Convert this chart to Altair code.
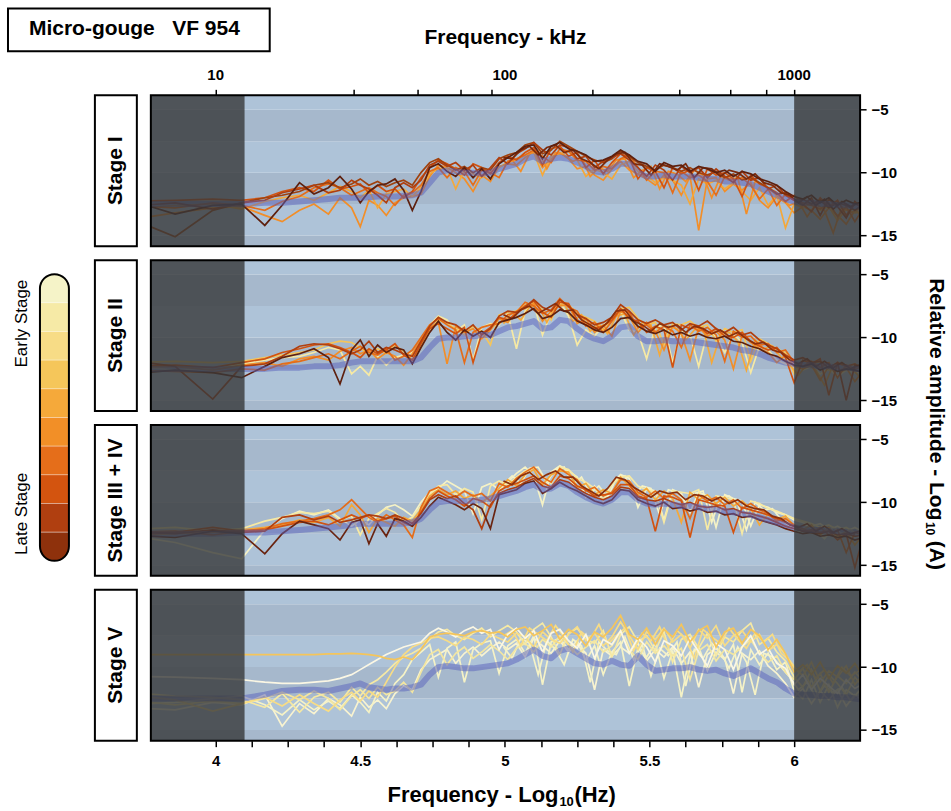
import altair as alt
import pandas as pd
import math

FONT = "Liberation Sans"
W, H = 710, 151

# ---------------- data ----------------
X = [3.69, 3.86, 3.99, 4.09, 4.17, 4.23, 4.29, 4.34, 4.39, 4.43,
     4.47, 4.50, 4.53, 4.56, 4.59, 4.62, 4.65, 4.68, 4.71, 4.74,
     4.77, 4.80, 4.83, 4.86, 4.89, 4.92, 4.95, 4.98, 5.01, 5.04,
     5.07, 5.10, 5.13, 5.16, 5.19, 5.22, 5.25, 5.28, 5.31, 5.34,
     5.37, 5.40, 5.43, 5.46, 5.49, 5.52, 5.55, 5.58, 5.61, 5.64,
     5.67, 5.70, 5.73, 5.76, 5.79, 5.82, 5.85, 5.88, 5.91, 5.94,
     5.97, 6.00, 6.03, 6.06, 6.09, 6.12, 6.15, 6.18, 6.21, 6.24]
# extra high-frequency bins lying between the ones above
X_MID = [4.995, 5.025, 5.055, 5.085, 5.115, 5.145, 5.175, 5.205, 5.235, 5.265,
         5.295, 5.325, 5.355, 5.385, 5.415, 5.445, 5.475, 5.505, 5.535, 5.565,
         5.595, 5.625, 5.655, 5.685, 5.715, 5.745, 5.775, 5.805, 5.835, 5.865,
         5.895, 5.925, 5.955, 5.985, 6.015, 6.045, 6.075, 6.105, 6.135, 6.165,
         6.195, 6.225]

# ---- Stage I ----
M1 = [-12.5, -12.5, -12.5, -12.5, -12.4, -12.4, -12.3, -12.2, -12.1, -12.0,
      -12.0, -12.0, -11.95, -11.9, -11.9, -11.9, -11.85, -11.8, -11.6, -10.8,
      -10.0, -9.8, -9.9, -10.0, -10.0, -10.1, -10.0, -9.7, -9.5, -9.3,
      -8.9, -8.7, -9.1, -8.9, -8.8, -8.9, -9.2, -9.5, -9.9, -10.0,
      -9.7, -9.3, -9.3, -10.0, -10.3, -10.3, -10.2, -10.3, -10.3, -10.3,
      -10.4, -10.5, -10.5, -10.7, -10.7, -10.8, -10.9, -11.2, -11.5, -11.8,
      -12.1, -12.3, -12.4, -12.4, -12.5, -12.5, -12.6, -12.6, -12.7, -12.7]
L1A_LO = [-12.1, -13.3, -12.6, -12.5, -14.2, -12.6, -10.8, -11.7, -11.2, -10.3,
          -11.3, -12.4, -11.5, -11.0, -10.9, -10.5, -11.4, -13.0, -11.5, -9.6,
          -9.3, -9.9, -10.3, -9.6, -10.4, -9.7, -10.5]
L1A_HI = [-9.3, -8.8, -8.4, -7.9, -7.8, -8.9, -7.9, -7.6, -8.1, -8.3,
          -8.6, -9.1, -9.0, -8.7, -8.2, -8.6, -9.1, -9.3, -9.9, -9.2,
          -9.5, -9.4, -9.9, -9.5, -9.7, -10.0, -9.8, -10.3, -9.9, -10.1,
          -10.5, -10.7, -11.0, -11.5, -11.9, -12.1, -11.8, -12.4, -12.0, -12.6,
          -12.2, -12.5, -12.3]
L1B_LO = [-12.7, -12.4, -12.9, -12.4, -12.2, -11.6, -11.3, -11.0, -11.6, -11.4,
          -10.6, -11.0, -11.3, -11.8, -12.4, -11.2, -10.8, -11.2, -10.6, -9.4,
          -9.1, -9.5, -9.2, -9.8, -9.4, -10.3, -9.6]
L1B_HI = [-8.8, -9.3, -8.5, -8.1, -7.6, -8.2, -8.6, -7.8, -8.0, -8.9,
          -8.7, -9.6, -9.1, -8.8, -8.5, -9.0, -9.6, -10.3, -9.4, -9.8,
          -10.6, -9.5, -10.0, -9.6, -10.4, -9.7, -10.3, -10.8, -9.9, -10.6,
          -10.4, -11.3, -11.0, -11.8, -12.2, -12.6, -12.0, -13.4, -12.1, -12.7,
          -13.6, -12.3, -13.0]
L1C_LO = [-12.3, -12.2, -12.1, -12.2, -12.0, -11.5, -11.2, -11.5, -10.6, -11.3,
          -11.1, -10.9, -11.6, -11.0, -11.5, -11.3, -12.0, -11.5, -10.4, -9.6,
          -9.0, -9.3, -9.7, -10.2, -9.3, -9.6, -10.1]
L1C_HI = [-9.2, -8.7, -9.0, -8.4, -8.0, -9.4, -8.1, -7.9, -8.7, -8.4,
          -9.6, -9.0, -10.1, -9.2, -8.5, -8.8, -10.5, -9.6, -9.9, -11.2,
          -9.6, -10.1, -9.8, -11.4, -9.7, -10.2, -10.0, -10.5, -11.9, -10.2,
          -10.9, -11.2, -11.6, -12.3, -11.8, -12.5, -13.1, -12.0, -12.7, -12.2,
          -13.4, -12.5, -12.7]
L1D_LO = [-12.6, -12.8, -12.4, -12.6, -13.0, -12.3, -11.9, -11.2, -10.9, -11.2,
          -11.8, -11.5, -11.2, -11.6, -11.9, -12.6, -11.8, -11.6, -11.0, -9.9,
          -9.6, -10.4, -9.6, -9.9, -11.0, -9.8, -10.0]
L1D_HI = [-10.4, -9.1, -8.9, -8.6, -8.2, -8.7, -9.2, -8.1, -8.3, -9.0,
          -9.1, -9.8, -9.5, -9.7, -8.9, -8.6, -9.6, -10.6, -9.9, -10.0,
          -11.6, -9.9, -10.4, -10.2, -10.7, -11.8, -10.3, -10.6, -10.4, -11.0,
          -12.1, -11.3, -12.6, -11.7, -12.2, -12.4, -12.6, -12.9, -12.4, -13.5,
          -12.7, -13.9, -12.8]
L1E_LO = [-13.8, -13.2, -12.8, -12.7, -13.4, -13.9, -13.0, -12.5, -13.3, -12.0,
          -12.8, -14.3, -12.2, -12.6, -13.4, -12.4, -12.0, -11.9, -11.7, -10.3,
          -9.4, -9.6, -10.0, -10.5, -11.5, -10.2, -10.7]
L1E_HI = [-9.5, -9.3, -9.4, -8.8, -8.3, -9.6, -8.9, -8.4, -8.9, -9.7,
          -9.5, -10.2, -10.6, -9.7, -9.1, -9.8, -10.1, -10.5, -11.0, -10.2,
          -10.6, -11.8, -10.3, -14.6, -10.5, -10.4, -11.5, -10.9, -11.4, -10.8,
          -12.2, -12.8, -11.9, -12.4, -13.2, -12.7, -13.0, -13.7, -12.8, -13.4,
          -14.1, -13.0, -13.5]
L1F_LO = [-12.9, -12.6, -12.5, -12.9, -12.3, -12.0, -11.8, -12.2, -11.6, -11.1,
          -11.5, -12.0, -11.4, -12.8, -11.7, -11.5, -11.3, -11.9, -11.2, -10.1,
          -9.7, -9.6, -11.3, -9.8, -10.1, -10.4, -9.9]
L1F_HI = [-9.6, -9.2, -9.0, -8.6, -8.4, -10.2, -8.7, -8.5, -8.3, -9.0,
          -10.3, -9.7, -10.0, -10.5, -9.4, -9.1, -9.9, -10.2, -10.8, -10.4,
          -10.6, -11.0, -12.5, -10.5, -10.9, -10.6, -11.3, -10.8, -11.5, -12.2,
          -11.2, -12.6, -11.8, -14.4, -12.5, -12.8, -12.4, -13.0, -12.7, -13.8,
          -12.9, -13.2, -13.1]
L1G_LO = [-13.5, -15.1, -13.0, -12.4, -12.0, -11.8, -11.5, -11.0, -10.8, -11.2,
          -10.9, -10.5, -11.0, -10.7, -11.1, -10.8, -10.6, -11.0, -10.0, -9.2,
          -8.9, -9.4, -9.8, -9.5, -10.0, -9.6, -9.8]
L1G_HI = [-8.9, -8.6, -8.4, -7.8, -7.6, -8.5, -8.2, -7.5, -7.9, -8.3,
          -8.7, -9.0, -9.2, -8.9, -8.3, -8.7, -9.2, -9.5, -9.8, -9.4,
          -9.6, -9.9, -9.6, -10.0, -10.2, -9.9, -10.4, -10.1, -10.6, -10.4,
          -10.8, -11.2, -11.7, -11.6, -12.2, -12.1, -12.5, -12.2, -12.8, -12.4,
          -12.6, -13.0, -12.5]
L1H_MID = [-8.8, -8.9, -8.2, -7.9, -8.6, -8.0, -7.8, -8.4, -8.2, -8.9,
           -9.2, -9.7, -9.0, -8.5, -8.4, -9.3, -9.4, -10.2, -9.3, -9.5,
           -9.8, -9.3, -10.4, -9.6, -9.7, -10.3, -9.8, -10.0, -10.5, -10.1,
           -10.8, -11.0, -11.6, -11.8, -12.4, -11.9, -12.6, -12.1, -12.9, -12.3,
           -12.7, -12.4]
L1I_MID = [-9.4, -9.0, -9.9, -8.5, -8.3, -9.7, -8.4, -8.6, -9.1, -8.8,
           -10.3, -9.6, -9.9, -9.0, -8.9, -10.4, -9.8, -9.5, -11.3, -9.9,
           -10.1, -10.7, -9.8, -10.2, -12.0, -10.3, -10.6, -10.4, -13.3, -10.7,
           -11.0, -11.5, -12.1, -12.6, -12.3, -13.5, -12.5, -13.0, -14.8, -12.7,
           -13.2, -12.9]
P1_LINES = [(X, L1E_LO + L1E_HI), (X, L1F_LO + L1F_HI), (X_MID, L1I_MID),
            (X, L1D_LO + L1D_HI), (X, L1C_LO + L1C_HI), (X, L1G_LO + L1G_HI),
            (X, L1B_LO + L1B_HI), (X_MID, L1H_MID), (X, L1A_LO + L1A_HI)]
P1_COLORS = ["#f28e28", "#f4a83a", "#f28e28", "#e46d1a", "#d25310", "#a0420e",
             "#b03f0f", "#7a2a0c", "#5e200e"]

# ---- Stage II ----
M2 = [-12.5, -12.5, -12.5, -12.5, -12.5, -12.4, -12.4, -12.3, -12.3, -12.2,
      -12.0, -11.9, -11.9, -11.9, -11.9, -11.9, -11.9, -11.9, -11.6, -10.8,
      -10.1, -10.0, -10.0, -9.9, -9.9, -9.8, -9.8, -9.5, -9.2, -9.1,
      -8.9, -8.7, -9.3, -9.2, -8.6, -8.7, -9.3, -9.8, -10.1, -10.3,
      -9.9, -9.2, -9.1, -9.9, -10.3, -10.3, -10.2, -10.3, -10.3, -10.3,
      -10.4, -10.5, -10.6, -10.7, -10.8, -11.0, -11.1, -11.3, -11.6, -11.8,
      -12.0, -12.1, -12.2, -12.2, -12.3, -12.3, -12.4, -12.4, -12.5, -12.5]
L2A_LO = [-12.2, -12.6, -12.4, -12.1, -11.8, -11.6, -11.5, -11.2, -10.8, -11.0,
          -12.9, -12.3, -13.0, -11.5, -12.2, -11.6, -11.4, -11.2, -10.6, -9.0,
          -8.3, -8.6, -9.5, -9.0, -11.8, -9.2, -8.9]
L2A_HI = [-9.0, -8.1, -10.9, -7.9, -7.3, -9.8, -8.0, -7.2, -8.3, -10.6,
          -9.4, -9.9, -9.0, -8.6, -7.9, -9.4, -9.6, -11.7, -9.2, -9.0,
          -12.0, -9.4, -9.8, -12.3, -9.6, -9.9, -11.2, -9.7, -10.4, -12.8,
          -10.7, -11.0, -11.8, -12.1, -12.2, -12.6, -12.3, -12.9, -12.5, -13.1,
          -12.6, -12.8, -12.7]
L2B_LO = [-12.0, -11.9, -12.0, -11.9, -11.6, -11.4, -11.2, -11.0, -10.5, -10.3,
          -10.4, -10.8, -11.4, -10.9, -11.3, -10.6, -11.1, -11.8, -10.8, -9.4,
          -8.6, -8.9, -9.3, -9.8, -9.1, -9.5, -10.6]
L2B_HI = [-8.2, -8.0, -7.9, -7.4, -7.2, -7.8, -8.6, -7.1, -7.4, -8.1,
          -8.4, -8.7, -9.5, -8.5, -7.7, -7.6, -8.5, -9.0, -8.8, -10.6,
          -8.9, -9.0, -8.7, -9.2, -9.0, -10.3, -9.3, -9.6, -9.4, -11.9,
          -10.1, -10.5, -10.9, -11.2, -12.9, -11.8, -12.2, -11.9, -12.6, -12.0,
          -12.4, -12.1, -12.6]
L2C_LO = [-12.4, -12.3, -12.6, -12.2, -12.0, -12.3, -11.7, -11.5, -11.8, -11.1,
          -10.8, -11.3, -11.0, -11.7, -11.2, -11.5, -12.2, -11.3, -10.2, -9.2,
          -8.8, -12.1, -9.1, -9.6, -9.3, -10.1, -9.4]
L2C_HI = [-8.5, -8.8, -7.9, -7.7, -7.3, -8.7, -7.9, -7.5, -7.4, -8.9,
          -8.5, -9.6, -9.0, -9.9, -7.9, -8.3, -9.6, -8.8, -9.5, -11.0,
          -9.1, -9.7, -11.8, -9.2, -9.9, -9.5, -10.2, -12.5, -9.8, -10.4,
          -10.9, -11.2, -12.0, -11.4, -12.3, -12.5, -12.2, -13.4, -12.3, -12.7,
          -12.4, -13.5, -12.6]
L2D_LO = [-12.6, -12.7, -12.8, -12.5, -12.6, -12.1, -11.9, -11.6, -11.3, -11.7,
          -11.1, -10.7, -11.2, -11.4, -10.9, -11.8, -11.5, -11.0, -10.0, -9.0,
          -8.5, -9.0, -9.4, -12.0, -9.6, -9.2, -9.0]
L2D_HI = [-8.9, -8.2, -8.0, -7.2, -7.5, -8.1, -7.8, -6.9, -7.6, -7.9,
          -9.1, -8.8, -9.6, -8.7, -7.8, -8.0, -9.2, -9.0, -9.6, -9.1,
          -9.5, -10.8, -9.0, -9.5, -9.2, -9.8, -11.9, -9.5, -10.0, -9.9,
          -10.6, -10.5, -11.2, -11.0, -12.0, -12.3, -11.9, -12.4, -12.0, -13.2,
          -12.2, -12.5, -12.3]
L2E_LO = [-12.3, -12.2, -12.4, -12.0, -11.7, -11.2, -10.9, -10.6, -10.5, -10.8,
          -11.2, -11.6, -10.9, -11.3, -11.0, -10.5, -11.4, -11.8, -10.5, -9.3,
          -8.9, -9.3, -9.7, -9.2, -12.0, -9.7, -9.2]
L2E_HI = [-8.4, -8.6, -8.1, -7.5, -7.1, -8.0, -8.4, -7.2, -7.3, -8.6,
          -9.0, -9.3, -9.1, -8.6, -7.7, -8.5, -8.7, -9.6, -9.1, -9.4,
          -12.4, -9.0, -9.3, -9.1, -9.7, -9.3, -9.9, -10.0, -9.6, -10.3,
          -10.7, -11.0, -10.8, -11.6, -13.6, -11.8, -12.1, -11.7, -14.6, -12.0,
          -12.3, -12.1, -12.5]
L2F_LO = [-11.8, -12.3, -14.9, -12.3, -12.1, -11.5, -10.7, -10.5, -10.6, -10.9,
          -11.3, -11.0, -10.3, -11.2, -10.8, -11.0, -11.3, -11.5, -10.3, -9.1,
          -8.4, -8.8, -9.0, -9.5, -9.0, -9.8, -9.3]
L2F_HI = [-8.3, -7.9, -8.0, -7.6, -7.0, -7.6, -7.9, -7.0, -7.5, -8.2,
          -8.5, -9.0, -8.8, -8.4, -7.4, -7.9, -8.6, -8.9, -8.6, -9.0,
          -8.8, -9.4, -8.9, -9.1, -8.7, -9.3, -9.6, -9.2, -9.8, -9.6,
          -10.2, -10.6, -10.9, -11.4, -11.8, -11.6, -12.0, -11.9, -12.4, -12.0,
          -15.0, -12.2, -12.4]
L2G_LO = [-12.9, -12.6, -12.8, -13.2, -12.3, -11.6, -11.3, -10.9, -11.6, -13.7,
          -11.0, -10.2, -11.5, -10.6, -11.2, -10.8, -11.0, -12.1, -10.8, -9.6,
          -8.7, -9.6, -10.2, -9.4, -9.9, -9.5, -10.0]
L2G_HI = [-8.8, -8.6, -8.4, -8.1, -7.7, -8.5, -8.3, -7.8, -8.0, -8.7,
          -9.0, -9.4, -9.6, -9.2, -8.5, -8.4, -9.1, -9.5, -9.7, -9.4,
          -9.8, -9.6, -9.9, -9.7, -10.0, -10.1, -9.9, -10.3, -10.4, -10.7,
          -10.9, -11.3, -11.5, -11.9, -12.2, -12.3, -12.1, -12.6, -12.3, -12.7,
          -12.5, -12.6, -12.8]
L2H_MID = [-8.2, -8.5, -7.8, -7.5, -8.1, -7.7, -7.3, -7.9, -7.8, -8.6,
           -9.0, -9.4, -8.8, -7.9, -7.8, -8.7, -9.0, -9.5, -8.9, -9.2,
           -9.0, -9.6, -9.1, -9.3, -9.7, -9.4, -9.9, -9.6, -10.1, -10.5,
           -10.4, -11.0, -11.2, -11.8, -12.1, -11.7, -12.3, -11.9, -12.4, -12.0,
           -12.5, -12.2]
L2I_MID = [-8.9, -8.0, -8.6, -7.6, -7.4, -8.8, -7.5, -7.3, -8.7, -8.2,
           -9.5, -8.9, -9.7, -8.3, -8.1, -9.8, -8.8, -9.0, -11.4, -9.1,
           -9.3, -10.2, -9.4, -9.2, -12.0, -9.8, -9.6, -10.3, -12.6, -10.2,
           -10.9, -10.7, -11.6, -12.2, -13.0, -12.1, -12.6, -13.8, -12.2, -12.7,
           -12.4, -13.1]
P2_LINES = [(X, L2A_LO + L2A_HI), (X, L2B_LO + L2B_HI), (X_MID, L2I_MID),
            (X, L2C_LO + L2C_HI), (X, L2D_LO + L2D_HI), (X, L2E_LO + L2E_HI),
            (X, L2F_LO + L2F_HI), (X_MID, L2H_MID), (X, L2G_LO + L2G_HI)]
P2_COLORS = ["#f6e9a4", "#f5c55a", "#f4a83a", "#f28e28", "#e46d1a", "#d25310",
             "#b03f0f", "#8c300c", "#5e200e"]

# ---- Stage III + IV ----
M3 = [-12.5, -12.5, -12.5, -12.4, -12.4, -12.3, -12.2, -12.1, -12.0, -11.9,
      -11.8, -11.7, -11.7, -11.7, -11.7, -11.7, -11.7, -11.6, -11.3, -10.6,
      -10.0, -9.9, -9.9, -9.9, -9.9, -9.8, -9.7, -9.5, -9.3, -9.1,
      -8.8, -8.6, -9.0, -8.9, -8.5, -8.7, -9.2, -9.6, -9.9, -10.1,
      -9.8, -9.2, -9.2, -9.8, -10.1, -10.2, -10.1, -10.2, -10.3, -10.3,
      -10.4, -10.5, -10.6, -10.7, -10.8, -10.9, -11.0, -11.2, -11.4, -11.6,
      -11.8, -12.0, -12.1, -12.2, -12.2, -12.3, -12.3, -12.4, -12.4, -12.5]
L3A_LO = [-12.6, -13.2, -14.0, -14.5, -12.2, -11.3, -10.7, -11.0, -10.6, -11.3,
          -11.9, -11.4, -11.8, -11.0, -10.4, -10.2, -10.6, -11.1, -10.0, -9.2,
          -8.9, -8.3, -8.7, -9.1, -10.9, -8.8, -8.5]
L3A_HI = [-9.0, -8.4, -7.7, -7.2, -7.9, -10.2, -7.6, -7.1, -7.5, -8.0,
          -9.6, -8.7, -9.9, -8.5, -7.8, -8.1, -10.4, -8.9, -9.1, -11.4,
          -9.0, -9.3, -10.8, -9.2, -9.5, -12.0, -9.4, -9.7, -9.9, -11.9,
          -10.2, -10.4, -10.8, -11.0, -11.4, -11.6, -11.9, -11.7, -12.2, -11.9,
          -12.3, -12.0, -12.4]
L3B_LO = [-12.2, -12.0, -12.3, -12.1, -11.5, -11.2, -10.8, -10.9, -10.7, -11.4,
          -11.1, -12.6, -11.3, -10.9, -10.5, -10.8, -11.5, -11.2, -10.3, -9.4,
          -8.7, -8.6, -9.4, -8.9, -9.2, -11.4, -8.7]
L3B_HI = [-8.3, -8.6, -8.0, -7.5, -7.3, -7.9, -8.5, -7.2, -7.4, -8.1,
          -8.4, -8.9, -9.8, -8.6, -8.0, -7.9, -8.7, -9.0, -9.2, -11.6,
          -9.1, -9.2, -9.3, -9.0, -12.2, -9.5, -9.6, -9.8, -12.5, -9.9,
          -10.1, -10.5, -10.7, -11.0, -11.3, -11.5, -11.7, -12.0, -11.8, -12.2,
          -12.0, -12.4, -12.1]
L3C_LO = [-12.7, -12.5, -12.4, -12.2, -12.0, -11.8, -11.4, -11.6, -11.2, -11.9,
          -10.2, -11.0, -12.4, -11.3, -11.6, -11.9, -11.2, -11.5, -10.6, -9.5,
          -9.0, -9.4, -9.1, -9.7, -9.4, -10.0, -9.5]
L3C_HI = [-8.9, -8.2, -8.7, -7.8, -7.4, -8.6, -7.8, -7.5, -7.6, -8.8,
          -8.5, -9.4, -9.0, -9.3, -8.0, -8.7, -9.4, -8.9, -9.8, -9.1,
          -9.7, -11.6, -9.2, -9.8, -9.4, -10.1, -9.6, -10.3, -9.9, -10.5,
          -11.8, -10.9, -11.4, -11.1, -11.9, -12.2, -11.8, -12.6, -12.0, -12.8,
          -12.3, -13.4, -12.5]
L3D_LO = [-12.4, -12.3, -12.6, -12.3, -12.1, -11.7, -11.5, -11.3, -11.0, -10.6,
          -9.8, -10.5, -11.2, -11.6, -11.0, -11.4, -11.8, -12.8, -10.4, -9.1,
          -8.8, -9.2, -9.6, -9.1, -9.5, -9.3, -9.9]
L3D_HI = [-8.5, -8.8, -8.1, -7.6, -7.2, -8.0, -8.4, -7.3, -7.8, -8.2,
          -9.1, -8.8, -9.5, -9.2, -8.2, -8.3, -9.2, -9.6, -9.1, -9.7,
          -9.3, -9.8, -11.3, -9.4, -9.9, -9.6, -10.2, -9.8, -10.5, -10.1,
          -10.6, -10.9, -11.5, -11.3, -11.8, -12.1, -12.4, -12.0, -12.6, -12.2,
          -14.0, -12.4, -12.6]
L3E_LO = [-12.6, -12.4, -12.0, -12.3, -12.2, -11.9, -11.6, -11.5, -11.8, -11.4,
          -11.0, -11.3, -11.0, -11.5, -11.3, -11.1, -11.6, -11.9, -10.8, -9.7,
          -9.1, -9.5, -9.8, -10.3, -9.7, -9.9, -10.4]
L3E_HI = [-9.1, -8.7, -8.5, -8.2, -7.9, -8.4, -8.8, -7.9, -8.1, -8.7,
          -9.0, -9.5, -9.4, -9.3, -8.6, -8.6, -9.5, -9.7, -12.3, -9.5,
          -9.6, -9.9, -12.8, -9.8, -10.0, -10.2, -10.3, -12.4, -10.4, -10.6,
          -10.8, -11.0, -11.3, -11.6, -11.9, -12.3, -12.2, -12.4, -12.3, -13.0,
          -12.5, -15.2, -12.6]
L3F_LO = [-12.3, -12.5, -12.2, -12.4, -12.3, -11.2, -11.0, -11.4, -11.1, -11.6,
          -11.4, -11.2, -11.0, -11.1, -11.3, -11.0, -11.3, -11.7, -10.9, -9.8,
          -9.4, -9.7, -9.5, -10.1, -10.6, -12.1, -10.2]
L3F_HI = [-9.3, -9.0, -8.8, -8.4, -8.1, -8.7, -8.9, -8.2, -8.4, -8.9,
          -9.3, -9.6, -9.8, -9.5, -8.8, -8.9, -9.6, -9.8, -9.9, -9.7,
          -10.0, -10.2, -10.0, -10.3, -10.4, -10.3, -10.6, -10.5, -10.8, -10.9,
          -11.1, -11.3, -11.6, -11.9, -12.1, -12.3, -12.4, -12.5, -12.3, -12.6,
          -12.5, -12.7, -12.6]
L3G_LO = [-12.6, -12.8, -12.3, -12.5, -14.1, -12.5, -11.5, -11.8, -12.1, -13.0,
          -11.6, -11.4, -13.3, -11.7, -12.7, -11.3, -11.5, -11.9, -11.2, -10.3,
          -9.6, -9.9, -10.2, -10.6, -10.1, -10.5, -12.1]
L3G_HI = [-9.4, -9.2, -9.0, -8.5, -8.3, -9.3, -8.9, -8.4, -8.8, -9.1,
          -9.5, -9.9, -10.1, -9.8, -9.0, -9.1, -9.8, -10.1, -10.3, -10.0,
          -10.5, -10.4, -10.7, -10.5, -10.8, -10.7, -11.0, -10.9, -11.2, -11.1,
          -11.4, -11.6, -11.8, -12.1, -12.3, -12.5, -12.4, -12.7, -12.6, -12.8,
          -12.7, -13.0, -12.8]
L3H_MID = [-8.3, -8.6, -7.9, -7.6, -8.2, -7.8, -7.5, -8.0, -8.0, -8.7,
           -9.1, -9.5, -8.9, -8.0, -8.2, -8.8, -9.2, -9.6, -9.1, -9.3,
           -9.2, -9.8, -9.4, -9.5, -9.9, -9.6, -10.1, -9.8, -10.3, -10.5,
           -10.6, -11.1, -11.3, -11.8, -12.0, -11.7, -12.3, -11.9, -12.4, -12.1,
           -12.5, -12.3]
L3I_MID = [-8.6, -7.9, -8.5, -7.3, -7.2, -8.4, -7.4, -7.2, -8.6, -8.0,
           -9.3, -8.7, -9.6, -8.1, -7.9, -9.5, -8.7, -8.9, -11.0, -9.0,
           -9.2, -10.0, -9.3, -9.1, -11.6, -9.6, -9.5, -10.1, -12.2, -10.0,
           -10.6, -10.5, -11.4, -11.9, -12.4, -11.8, -12.3, -12.9, -12.0, -12.5,
           -12.2, -12.7]
P3_LINES = [(X, L3A_LO + L3A_HI), (X_MID, L3I_MID), (X, L3B_LO + L3B_HI),
            (X, L3C_LO + L3C_HI), (X, L3D_LO + L3D_HI), (X, L3E_LO + L3E_HI),
            (X, L3F_LO + L3F_HI), (X_MID, L3H_MID), (X, L3G_LO + L3G_HI)]
P3_COLORS = ["#f5f2c6", "#f5f2c6", "#f6e9a4", "#f4a83a", "#e46d1a", "#d25310",
             "#b03f0f", "#8c300c", "#6a2410"]

# ---- Stage V ----
M4 = [-12.5, -12.5, -12.5, -12.5, -12.2, -11.9, -11.8, -11.8, -11.9, -11.7,
      -11.5, -11.3, -11.6, -11.7, -11.8, -11.7, -11.7, -11.6, -11.4, -10.6,
      -10.0, -9.9, -10.0, -10.1, -10.1, -10.0, -9.9, -9.8, -9.7, -9.4,
      -9.0, -8.6, -9.1, -9.3, -8.7, -8.5, -8.9, -9.3, -9.7, -9.8,
      -9.5, -9.8, -9.9, -9.1, -9.8, -10.3, -10.2, -10.1, -10.1, -10.0,
      -10.2, -10.3, -10.2, -10.5, -10.7, -10.4, -10.1, -10.5, -10.9, -11.2,
      -11.7, -12.1, -12.2, -12.2, -12.3, -12.3, -12.4, -12.4, -12.5, -12.6]
L4A = [-9.0, -9.0, -9.0, -9.0, -9.0, -9.0, -9.0, -9.0, -8.95, -8.95,
       -8.9, -8.95, -9.0, -9.1, -9.3, -9.4, -9.2, -9.4, -8.6, -7.6,
       -7.4, -7.3, -7.4, -7.5, -7.2, -7.1, -7.3, -7.2, -7.6, -7.0,
       -6.8, -7.5, -7.1, -6.6, -7.8, -7.0, -7.4, -8.3, -7.2, -7.6,
       -6.9, -5.9, -7.4, -7.8, -6.9, -8.2, -7.0, -7.6, -6.6, -8.0,
       -7.1, -6.7, -8.4, -7.2, -6.9, -8.1, -7.0, -7.5, -8.6, -7.8,
       -8.9, -10.4, -9.8, -10.6, -9.6, -10.9, -9.9, -10.5, -9.7, -10.8]
L4B = [-10.7, -10.8, -10.9, -11.0, -11.2, -11.3, -11.3, -11.2, -11.1, -10.9,
       -10.6, -10.2, -9.8, -9.4, -9.0, -8.7, -8.4, -8.2, -8.0, -7.3,
       -6.9, -7.2, -7.6, -7.1, -6.8, -7.3, -7.0, -8.6, -7.4, -6.9,
       -7.7, -7.1, -8.8, -7.3, -7.0, -7.9, -8.5, -7.4, -9.3, -7.8,
       -8.2, -7.1, -8.9, -7.7, -8.4, -9.6, -7.9, -8.3, -9.1, -7.7,
       -8.8, -9.9, -8.1, -8.6, -10.2, -8.4, -7.5, -9.0, -8.5, -9.7,
       -10.1, -11.4, -10.6, -11.8, -10.9, -11.5, -12.1, -11.0, -11.7, -11.3]
L4C = [-12.0, -12.3, -12.4, -12.6, -13.2, -12.1, -13.6, -12.4, -12.0, -12.8,
       -11.6, -12.3, -11.4, -11.0, -10.4, -9.7, -9.2, -8.9, -8.5, -7.8,
       -7.2, -7.0, -7.5, -7.8, -7.3, -6.9, -7.6, -7.1, -6.7, -7.2,
       -8.2, -7.0, -6.5, -7.6, -9.0, -7.3, -6.9, -7.8, -8.1, -7.1,
       -9.2, -7.4, -6.8, -8.0, -7.5, -8.7, -7.2, -9.6, -7.8, -7.4,
       -8.5, -7.3, -9.1, -7.6, -8.0, -7.1, -6.5, -8.2, -7.7, -8.8,
       -9.5, -10.8, -11.6, -10.2, -11.9, -10.6, -11.3, -12.2, -10.8, -11.6]
L4D = [-13.0, -12.8, -12.5, -12.3, -13.0, -13.8, -12.6, -13.4, -12.7, -13.3,
       -12.2, -12.8, -13.6, -12.0, -12.7, -11.3, -10.6, -9.4, -8.8, -8.2,
       -10.8, -8.5, -8.0, -11.2, -8.6, -8.1, -7.9, -10.5, -8.3, -7.8,
       -8.9, -7.5, -11.4, -8.0, -7.7, -8.6, -7.9, -9.5, -8.3, -10.6,
       -8.8, -8.0, -11.5, -8.5, -9.2, -8.1, -10.9, -8.7, -12.4, -9.0,
       -8.4, -10.3, -8.8, -9.4, -8.2, -12.0, -8.6, -9.8, -8.9, -10.2,
       -9.6, -11.9, -12.5, -11.0, -12.8, -11.4, -13.2, -11.8, -12.3, -11.5]
L4E = [-12.2, -12.6, -13.5, -12.9, -12.4, -13.1, -12.2, -12.9, -13.5, -12.6,
       -12.0, -12.7, -11.9, -12.4, -11.2, -10.0, -9.0, -8.4, -8.1, -7.7,
       -7.6, -7.9, -8.3, -7.6, -7.8, -8.2, -7.4, -7.7, -8.0, -7.3,
       -7.6, -8.4, -7.2, -7.8, -8.1, -7.4, -6.8, -7.9, -7.3, -8.3,
       -7.6, -6.4, -7.5, -8.6, -7.2, -7.8, -6.9, -8.0, -7.4, -8.5,
       -7.0, -7.7, -6.7, -8.3, -7.5, -7.1, -8.0, -7.4, -8.7, -8.2,
       -9.0, -10.0, -10.7, -9.6, -11.2, -10.3, -10.8, -9.9, -11.4, -10.5]
L4F = [-12.6, -13.0, -12.7, -12.9, -12.5, -12.0, -12.6, -11.9, -12.5, -13.4,
       -12.3, -11.8, -12.5, -11.6, -12.2, -11.9, -11.2, -12.0, -10.4, -9.0,
       -8.6, -9.8, -8.9, -8.4, -9.3, -8.8, -8.2, -8.7, -9.4, -8.5,
       -8.1, -8.8, -7.8, -8.4, -7.5, -8.2, -9.0, -8.4, -7.9, -8.8,
       -8.3, -7.2, -8.6, -9.4, -8.0, -8.9, -8.3, -9.1, -8.5, -11.0,
       -8.7, -8.2, -9.5, -8.6, -9.0, -8.4, -7.8, -8.9, -9.6, -9.1,
       -10.4, -11.0, -10.1, -11.6, -10.5, -12.0, -10.7, -11.3, -10.4, -11.1]
L4G = [-13.2, -13.4, -12.8, -13.0, -12.2, -14.7, -12.9, -13.7, -12.5, -13.0,
       -13.9, -12.4, -13.2, -12.6, -13.3, -12.1, -11.5, -11.8, -10.2, -9.4,
       -9.0, -8.6, -9.7, -8.9, -8.4, -9.1, -8.5, -8.0, -8.6, -8.1,
       -9.2, -7.7, -8.3, -8.9, -7.9, -8.8, -8.2, -8.9, -11.8, -8.6,
       -9.1, -8.4, -8.9, -8.1, -9.5, -8.6, -9.2, -8.4, -9.7, -8.8,
       -11.6, -9.0, -8.5, -9.3, -12.1, -8.9, -9.4, -8.7, -9.9, -10.5,
       -11.3, -12.4, -11.7, -12.9, -11.9, -12.6, -11.8, -13.1, -12.2, -12.7]
L4H_MID = [-7.5, -7.1, -8.3, -6.9, -7.4, -7.9, -6.7, -7.6, -8.8, -7.2,
           -7.8, -6.6, -8.2, -7.5, -6.9, -8.7, -7.3, -7.9, -6.8, -8.4,
           -7.1, -7.7, -9.3, -7.0, -7.6, -8.1, -6.9, -7.8, -8.5, -7.3,
           -8.0, -7.4, -8.9, -9.5, -10.4, -9.8, -10.9, -10.2, -11.3, -10.0,
           -10.7, -10.3]
L4I_MID = [-8.4, -9.3, -7.7, -8.1, -10.6, -7.9, -8.6, -9.8, -7.8, -8.3,
           -11.2, -8.0, -8.7, -9.0, -7.6, -9.4, -8.2, -10.7, -8.5, -9.1,
           -8.0, -11.5, -8.6, -9.3, -8.1, -8.8, -10.1, -8.4, -9.6, -12.2,
           -8.9, -9.2, -10.0, -10.8, -11.8, -11.2, -12.4, -11.5, -12.0, -11.6,
           -12.7, -11.9]
P4_LINES = [(X, L4G), (X, L4D), (X_MID, L4I_MID), (X, L4F), (X, L4C),
            (X, L4E), (X_MID, L4H_MID), (X, L4B), (X, L4A)]
P4_COLORS = ["#f8f3d0", "#f5f2c6", "#f5f2c6", "#f3e6a0", "#f6e9a4",
             "#f7dc85", "#f7dc85", "#fbf7e4", "#f5c55a"]

STAGE_LABELS = ["Stage I", "Stage II", "Stage III + IV", "Stage V"]
CB_COLORS = ["#f5f3c8", "#f6eaa6", "#f7dc86", "#f5c65a", "#f5a93a",
             "#f28f27", "#e56e1a", "#d3540f", "#b03f10", "#8e310c"]
KHZ_TICKS = [10, 20, 30, 40, 50, 60, 70, 80, 90,
             100, 200, 300, 400, 500, 600, 700, 800, 900, 1000]
KHZ_LABELS = ["10", "100", "1000"]
KHZ_LABEL_POS = [4, 5, 6]
LOG_TICKS = [4, 4.125, 4.25, 4.375, 4.5, 4.625, 4.75, 4.875, 5,
             5.125, 5.25, 5.375, 5.5, 5.625, 5.75, 5.875, 6]
Y_TICKS = [-15, -10, -5]
STRIPE_Y1 = [-17, -15, -12.5, -10, -7.5, -5]
STRIPE_Y2 = [-15, -12.5, -10, -7.5, -5, -3]
STRIPE_C = ["#a6b8cc", "#aec3d8", "#a6b8cc", "#aec3d8", "#a6b8cc", "#aec3d8"]
DARK_X1 = [3.6, 6.0]
DARK_X2 = [4.1, 6.4]

TITLE = "Micro-gouge\u00a0\u00a0\u00a0VF 954"
TOP_TITLE = "Frequency - kHz"
BOT_TITLE = ["Frequency - Log", "10", "(Hz)"]
RIGHT_TITLE = ["Relative amplitude - Log", "10", "(A)"]
CB_TEXT = ["Early Stage", "Late Stage"]

# ---------------- chart ----------------
XS = alt.Scale(domain=[3.776, 6.228], nice=False, zero=False)
YS = alt.Scale(domain=[-15.85, -3.85], nice=False, zero=False)

STRIPES = pd.DataFrame({"y1": STRIPE_Y1, "y2": STRIPE_Y2, "c": STRIPE_C})
DARK = pd.DataFrame({"x1": DARK_X1, "x2": DARK_X2})

AX_COMMON = dict(labelFont=FONT, labelFontSize=15, labelFontWeight="bold",
                 labelColor="black", tickColor="black", tickSize=6, tickWidth=1.5,
                 domain=False, grid=False, title=None, labelOverlap=False,
                 labelFlush=False, zindex=2)

YAXIS = alt.Axis(orient="right", values=Y_TICKS, labelPadding=5, **AX_COMMON)

TOP_AXIS = alt.Axis(orient="top", values=[math.log10(k * 1000) for k in KHZ_TICKS],
                    labels=False, **AX_COMMON)

BOT_AXIS = alt.Axis(orient="bottom", values=LOG_TICKS,
                    labelExpr="datum.value % 0.5 == 0 ? format(datum.value, '~g') : ''",
                    labelPadding=7, **AX_COMMON)


def one():
    return pd.DataFrame({"a": [0]})


def txt(s, x, y, size, weight="bold", angle=0, align="center", baseline="middle"):
    kw = dict(font=FONT, fontSize=size, fontWeight=weight, align=align,
              baseline=baseline, color="black")
    if angle:
        kw["angle"] = angle
    return alt.Chart(pd.DataFrame({"t": [s]})).mark_text(**kw).encode(
        x=alt.value(x), y=alt.value(y), text="t:N")


def box(x1, x2, y1, y2, **mk):
    return alt.Chart(one()).mark_rect(**mk).encode(
        x=alt.value(x1), x2=alt.value(x2), y=alt.value(y1), y2=alt.value(y2))


def xenc(field, axis):
    # layers share one x axis; only the lines layer carries its definition
    if axis is None:
        return alt.X(field, scale=XS, axis=None)
    return alt.X(field, scale=XS)


def panel(lines, colors, mean, label, xaxis, extra):
    rows = []
    for k, ((xs, vals), col) in enumerate(zip(lines, colors)):
        for xv, yv in zip(xs, vals):
            rows.append({"x": xv, "y": yv, "s": k, "c": col})
    df = pd.DataFrame(rows)
    mdf = pd.DataFrame({"x": X, "y": mean})

    stripes = alt.Chart(STRIPES).mark_rect(clip=True).encode(
        x=alt.value(0), x2=alt.value(W),
        y=alt.Y("y1:Q", scale=YS), y2="y2:Q",
        color=alt.Color("c:N", scale=None))
    if xaxis is None:
        lx = alt.X("x:Q", scale=XS, axis=None)
    else:
        lx = alt.X("x:Q", scale=XS, axis=xaxis)
    lns = alt.Chart(df).mark_line(clip=True, strokeWidth=1.7).encode(
        x=lx,
        y=alt.Y("y:Q", scale=YS, axis=YAXIS),
        color=alt.Color("c:N", scale=None),
        detail="s:N")
    mean_l = alt.Chart(mdf).mark_line(clip=True, strokeWidth=6, color="#5860bc",
                                      opacity=0.5, strokeJoin="round").encode(
        x=xenc("x:Q", xaxis),
        y=alt.Y("y:Q", scale=YS))
    over = alt.Chart(DARK).mark_rect(clip=True, color="#37383a", opacity=0.8).encode(
        x=xenc("x1:Q", xaxis), x2="x2:Q",
        y=alt.value(0), y2=alt.value(H))
    border = box(0, W, 0, H, fillOpacity=0, stroke="black", strokeWidth=2)
    sbox = box(-56, -14, 0, H, fill="white", stroke="black", strokeWidth=2)
    stxt = txt(label, -35, H / 2, 21, angle=270)
    layers = [stripes, lns, mean_l, over, border, sbox, stxt]
    for e in extra:
        layers.append(e(xaxis) if callable(e) else e)
    return alt.layer(*layers).properties(width=W, height=H)


def khz_labels(xaxis):
    d = pd.DataFrame({"x": KHZ_LABEL_POS, "t": KHZ_LABELS})
    return alt.Chart(d).mark_text(font=FONT, fontSize=15, fontWeight="bold",
                                  color="black", baseline="middle").encode(
        x=xenc("x:Q", xaxis), y=alt.value(-20), text="t:N")


# extras for panel 1
ex1 = [
    box(-143, 119, -87, -44, fill="white", stroke="black", strokeWidth=2),
    txt(TITLE, -122, -66, 21, align="left"),
    txt(TOP_TITLE, 355, -57, 21),
    khz_labels,
]

# extras for panel 2: colour bar, its labels and the right-hand title
ex2 = []
seg = 28.7
for i, c in enumerate(CB_COLORS):
    mk = dict(fill=c, stroke="#ffffff", strokeWidth=0.6, strokeOpacity=0.5)
    if i == 0:
        mk.update(cornerRadiusTopLeft=14.5, cornerRadiusTopRight=14.5)
    if i == len(CB_COLORS) - 1:
        mk.update(cornerRadiusBottomLeft=14.5, cornerRadiusBottomRight=14.5)
    ex2.append(box(-111, -82, 14 + seg * i, 14 + seg * (i + 1), **mk))
ex2.append(box(-111, -82, 14, 14 + seg * 10, fillOpacity=0, stroke="black",
               strokeWidth=2, cornerRadius=14.5))
ex2.append(txt(CB_TEXT[0], -129, 63.5, 17, weight="normal", angle=270))
ex2.append(txt(CB_TEXT[1], -129, 254, 17, weight="normal", angle=270))
ex2.append(txt(RIGHT_TITLE[0], 786, 18, 21, angle=90, align="left"))
ex2.append(txt(RIGHT_TITLE[1], 780, 262, 12, angle=90, align="left"))
ex2.append(txt(RIGHT_TITLE[2], 786, 281, 21, angle=90, align="left"))

# extras for panel 4: bottom title with subscript
ex4 = [
    txt(BOT_TITLE[0], 237, 205, 22, align="left"),
    txt(BOT_TITLE[1], 409, 212, 13, align="left"),
    txt(BOT_TITLE[2], 424, 205, 22, align="left"),
]

p1 = panel(P1_LINES, P1_COLORS, M1, STAGE_LABELS[0], TOP_AXIS, ex1)
p2 = panel(P2_LINES, P2_COLORS, M2, STAGE_LABELS[1], None, ex2)
p3 = panel(P3_LINES, P3_COLORS, M3, STAGE_LABELS[2], None, [])
p4 = panel(P4_LINES, P4_COLORS, M4, STAGE_LABELS[3], BOT_AXIS, ex4)

chart = alt.vconcat(p1, p2, p3, p4, spacing=14, bounds="flush").properties(
    padding={"left": 7, "top": 7, "right": 3, "bottom": 3},
    background="white",
).configure_view(strokeWidth=0)

chart.save("out.html", embed_options={"renderer": "svg", "actions": False})
